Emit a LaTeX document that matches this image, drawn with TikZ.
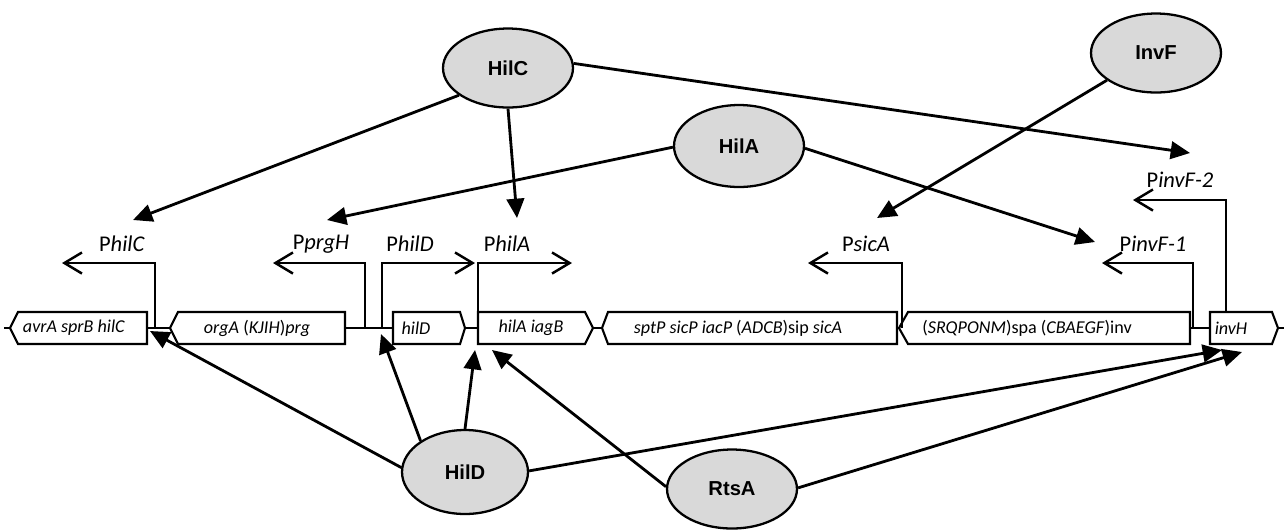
\documentclass[tikz,border=0pt]{standalone}
\usepackage{fontspec}
\setmainfont{Carlito}
\newfontfamily\regfont{Liberation Sans}
\usetikzlibrary{arrows.meta,shapes.geometric}

\begin{document}
\begin{tikzpicture}[x=0.02cm,y=-0.02cm,line join=miter,
  gene/.style={line width=1.2pt,fill=white},
  backbone/.style={line width=1.5pt},
  genelabel/.style={font=\fontsize{10.3}{12}\selectfont,inner sep=0pt},
  prom/.style={line width=1.4pt,-{Straight Barb[length=10pt,width=12pt]}},
  promlabel/.style={font=\fontsize{12.8}{14}\selectfont,inner sep=0pt},
  reg/.style={ellipse,draw,line width=1.3pt,fill=black!15,minimum width=2.6cm,
    minimum height=1.58cm,inner sep=0pt,font=\regfont\bfseries\fontsize{11.5}{13}\selectfont},
  act/.style={line width=1.6pt,-{Triangle[length=11pt,width=10pt]}}]
  \useasboundingbox (0,0) rectangle (1284,529);
  % chromosome backbone
  \draw[backbone] (4,328) -- (10,328);
  \draw[backbone] (147,328) -- (170,328);
  \draw[backbone] (345,328) -- (393,328);
  \draw[backbone] (465,328) -- (478,328);
  \draw[backbone] (593,328) -- (602,328);
  \draw[backbone] (1190,328) -- (1210,328);
  \draw[backbone] (1278,328) -- (1284,328);
  % genes
  \draw[gene] (147,312) -- (18,312) -- (10,328) -- (18,344) -- (147,344) -- cycle;
  \draw[gene] (345,312) -- (178,312) -- (170,328) -- (178,344) -- (345,344) -- cycle;
  \draw[gene] (393,312) -- (460,312) -- (465,328) -- (460,344) -- (393,344) -- cycle;
  \draw[gene] (478,312) -- (585,312) -- (593,328) -- (585,344) -- (478,344) -- cycle;
  \draw[gene] (897,312) -- (608,312) -- (602,328) -- (608,344) -- (897,344) -- cycle;
  \draw[gene] (1190,312) -- (908,312) -- (899,328) -- (908,344) -- (1190,344) -- cycle;
  \draw[gene] (1210,312) -- (1272,312) -- (1278,328) -- (1272,344) -- (1210,344) -- cycle;
  \node[genelabel] (avra) at (74,328) {\textit{avrA sprB hilC}};
  \node[genelabel] (orga) at (257,328) {\textit{orgA} (\textit{KJIH})\textit{prg}};
  \node[genelabel] (hildg) at (416,328) {\textit{hilD}};
  \node[genelabel] (hilag) at (531,328) {\textit{hilA iagB}};
  \node[genelabel] (sptp) at (738,328) {\textit{sptP sicP iacP} (\textit{ADCB})sip \textit{sicA}};
  \node[genelabel] (spa) at (1027,328) {(\textit{SRQPONM})spa (\textit{CBAEGF})inv};
  \node[genelabel] (invh) at (1231,328) {\textit{invH}};
  % promoters
  \draw[prom] (155,328) -- (155,263) -- (62,263);
  \draw[prom] (365,328) -- (365,263) -- (273,263);
  \draw[prom] (382,328) -- (382,263) -- (475,263);
  \draw[prom] (478,312) -- (478,263) -- (572,263);
  \draw[prom] (902,328) -- (902,263) -- (808,263);
  \draw[prom] (1193,328) -- (1193,263) -- (1102,263);
  \draw[prom] (1226,312) -- (1226,200) -- (1133,200);
  \node[promlabel] (philc) at (122,244) {P\textit{hilC}};
  \node[promlabel] (pprgh) at (321,244) {P\textit{prgH}};
  \node[promlabel] (phild) at (410,244) {P\textit{hilD}};
  \node[promlabel] (phila) at (507,244) {P\textit{hilA}};
  \node[promlabel] (psica) at (866,244) {P\textit{sicA}};
  \node[promlabel] (pinvfa) at (1153,244) {P\textit{invF-1}};
  \node[promlabel] (pinvfb) at (1180,180) {P\textit{invF-2}};
  % regulators
  \node[reg] (hilc) at (508,68) {HilC};
  \node[reg] (invf) at (1156,53) {InvF};
  \node[reg,minimum height=1.64cm] (hila) at (739,146) {HilA};
  \node[reg,minimum width=2.52cm,minimum height=1.68cm] (hild) at (465,472) {HilD};
  \node[reg] (rtsa) at (732,489) {RtsA};
  % targets
  \coordinate (toPhilC) at (133,220);
  \coordinate (toPhilA) at (517,218);
  \coordinate (toPinvFb) at (1190,153);
  \coordinate (toPprgH) at (327,220);
  \coordinate (toPinvFa) at (1095,242);
  \coordinate (toPsicA) at (877,218);
  \coordinate (toHilCg) at (150,331);
  \coordinate (toHilDg) at (381,334);
  \coordinate (toHilAg) at (475,350);
  \coordinate (toHilAr) at (492,350);
  \coordinate (toInvHd) at (1222,350);
  \coordinate (toInvHr) at (1242,352);
  % activation
  \draw[act] (hilc.209) -- (toPhilC);
  \draw[act] (hilc.270) -- (toPhilA);
  \draw[act] (hilc.4) -- (toPinvFb);
  \draw[act] (hila.181) -- (toPprgH);
  \draw[act] (hila.358) -- (toPinvFa);
  \draw[act] (invf.209) -- (toPsicA);
  \draw[act] (hild.176) -- (toHilCg);
  \draw[act] (hild.145) -- (toHilDg);
  \draw[act] (hild.90) -- (toHilAg);
  \draw[act] (hild.1) -- (toInvHd);
  \draw[act] (rtsa.178) -- (toHilAr);
  \draw[act] (rtsa.1) -- (toInvHr);
\end{tikzpicture}
\end{document}
